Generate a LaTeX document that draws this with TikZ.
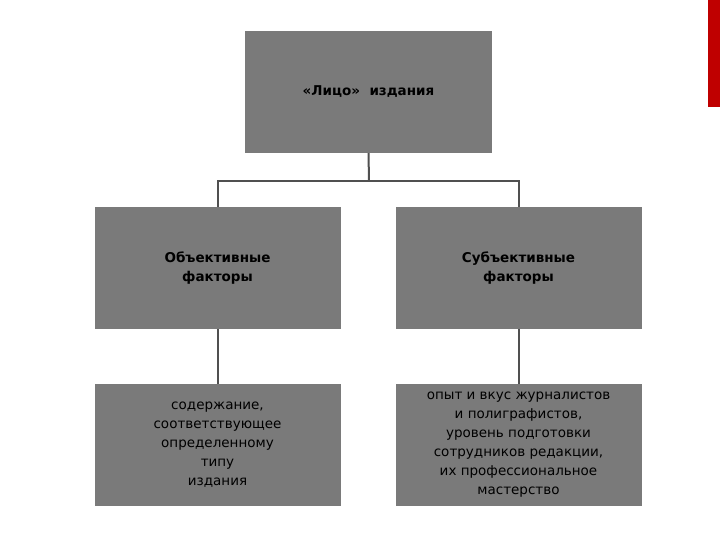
\documentclass[tikz,border=0pt]{standalone}
\usepackage{fontspec}
\setmainfont{DejaVu Sans}
\begin{document}
\begin{tikzpicture}[x=1pt,y=-1pt,
 box/.style={fill=boxgray,draw=none,minimum width=246pt,minimum height=122pt,inner sep=0pt,align=center,font=\fontsize{13.5}{19}\selectfont,text=black},
 conn/.style={draw=linegray,line width=2pt}]
\definecolor{boxgray}{HTML}{7A7A7A}
\definecolor{linegray}{HTML}{505050}
\useasboundingbox[fill=white] (0,0) rectangle (720,540);
\fill[red!75!black] (708,0) rectangle (720,107);
\node[box,minimum width=247pt] (top) at (368.5,92) {\textbf{«Лицо»\ \ издания}};
\node[box] (ol) at (217.5,268) {\textbf{Объективные}\\\textbf{факторы}};
\node[box] (sr) at (518.5,268) {\textbf{Субъективные}\\\textbf{факторы}};
\node[box] (bl) at (217.5,445) {содержание,\\соответствующее\\определенному\\типу\\издания};
\node[box] (br) at (518.5,445) {опыт и вкус журналистов\\и полиграфистов,\\уровень подготовки\\сотрудников редакции,\\их профессиональное\\мастерство};
\coordinate (j) at (369,181);
\draw[conn] (top.south) -- (j);
\draw[conn] (ol.north) -- (ol.north |- j) -- (sr.north |- j) -- (sr.north);
\draw[conn] (ol.south) -- (bl.north);
\draw[conn] (sr.south) -- (br.north);
\end{tikzpicture}
\end{document}
